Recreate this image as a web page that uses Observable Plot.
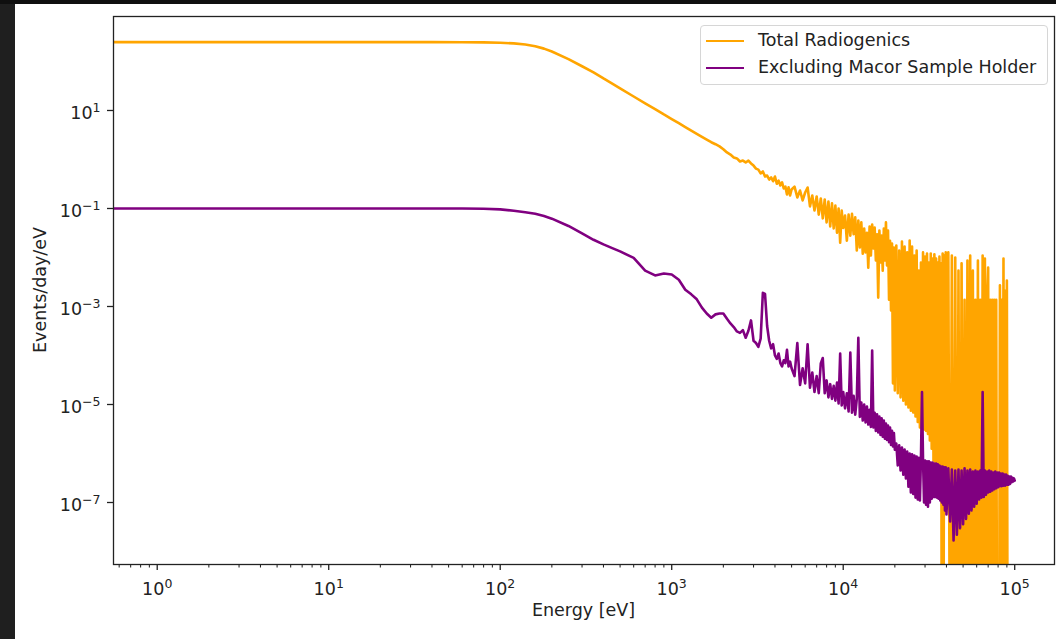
<!DOCTYPE html>
<html>
<head>
<meta charset="utf-8">
<script src="https://cdn.jsdelivr.net/npm/d3@7"></script>
<script src="https://cdn.jsdelivr.net/npm/@observablehq/plot@0.6"></script>
<style>
  html, body { margin: 0; padding: 0; }
  body { width: 1056px; height: 639px; overflow: hidden; position: relative; background: #1f1f1f; font-family: "DejaVu Sans", sans-serif; color: #222; }
  #topbar { position: absolute; left: 0; top: 0; width: 1056px; height: 4px; background: #0f0f0f; }
  #fig { position: absolute; left: 15px; top: 4px; width: 1041px; height: 635px; background: #fff; }
  #fig svg { display: block; }
  .lbl { position: absolute; font-size: 17.5px; line-height: 1; white-space: nowrap; color: #222; }
  #legend { position: absolute; left: 700px; top: 25px; width: 348px; height: 60px; box-sizing: border-box;
            border: 1px solid #d6d6d6; border-radius: 4px; background: rgba(255,255,255,0.85); }
  .sw { position: absolute; left: 5px; width: 38px; height: 2.6px; }
  .lt { position: absolute; left: 57px; font-size: 17.5px; line-height: 1; white-space: nowrap; color: #222; }
</style>
</head>
<body>
<div id="topbar"></div>
<div id="fig"></div>
<script>
// ---- data (energy in eV, rates in events/day/eV; 0 = empty bin) ----
const energy = [
  0.5, 1, 2, 5, 10, 20, 40, 60, 80, 100, 120, 140, 160, 180, 200, 250, 300, 350, 400, 450, 500, 600, 700, 800, 900, 1000,
  1100, 1200, 1300, 1400, 1500, 1600, 1700, 1800, 1900, 2000,
  2100, 2200, 2300, 2400, 2500, 2600, 2700, 2800, 2900, 3000, 3100, 3200, 3300, 3400, 3500, 3600, 3700, 3800, 3900, 4000,
  4100, 4200, 4300, 4400, 4500, 4600, 4700, 4800, 4900, 5000,
  5200, 5400, 5600, 5800, 6000, 6200, 6400, 6600, 6800, 7000, 7200, 7400, 7600, 7800, 8000, 8200, 8400, 8600, 8800, 9000,
  9200, 9400, 9600, 9800, 10000,
  10250, 10500, 10750, 11000, 11250, 11500, 11750, 12000, 12250, 12500, 12750, 13000, 13250, 13500, 13750, 14000, 14250, 14500,
  14750, 15000, 15250, 15500, 15750, 16000, 16250, 16500, 16750, 17000, 17250, 17500, 17750, 18000, 18250, 18500, 18750, 19000,
  19250, 19500, 19750, 20000,
  20400, 20800, 21200, 21600, 22000, 22400, 22800, 23200, 23600, 24000, 24400, 24800, 25200, 25600, 26000, 26400, 26800, 27200,
  27600, 28000, 28400, 28800, 29200, 29600, 30000, 30400, 30800, 31200, 31600, 32000, 32400, 32800, 33200, 33600, 34000, 34400,
  34800, 35200, 35600, 36000, 36400, 36800, 37200, 37600, 38000, 38400, 38800, 39200, 39600, 40000,
  41000, 42000, 43000, 44000, 45000, 46000, 47000, 48000, 49000, 50000, 51000, 52000, 53000, 54000, 55000, 56000, 57000, 58000,
  59000, 60000, 61000, 62000, 63000, 64000, 65000, 66000, 67000, 68000, 69000, 70000, 71000, 72000, 73000, 74000, 75000, 76000,
  77000, 78000, 79000, 80000, 81000, 82000, 83000, 84000, 85000, 86000, 87000, 88000, 89000, 90000, 91000, 92000, 93000, 94000,
  95000, 96000, 97000, 98000, 99000, 100000
];

const totalRadiogenics = [
  248, 248, 248, 248, 248, 248, 248, 247, 245, 241, 234, 222, 205, 183, 160, 112, 80, 60, 45, 35.4, 28.3, 19.3, 14, 10.7, 8.3, 6.7,
  5.5, 4.6, 3.9, 3.35, 2.9, 2.55, 2.25, 2.05, 1.85, 1.62,
  1.39, 1.26, 1.1, 1.05, 0.91, 0.95, 0.87, 0.95, 0.83, 0.75, 0.65, 0.62, 0.52, 0.57, 0.45, 0.47, 0.39, 0.43, 0.36, 0.45,
  0.32, 0.37, 0.295, 0.34, 0.256, 0.28, 0.193, 0.27, 0.184, 0.244,
  0.28, 0.168, 0.233, 0.146, 0.212, 0.268, 0.11, 0.184, 0.091, 0.176, 0.075, 0.16, 0.063, 0.153, 0.052, 0.139, 0.043, 0.127, 0.039, 0.115,
  0.032, 0.1, 0.02, 0.091, 0.04,
  0.072, 0.022, 0.075, 0.028, 0.078, 0.03, 0.066, 0.0139, 0.057, 0.016, 0.052, 0.012, 0.039, 0.0127, 0.032, 0.0062, 0.043, 0.011,
  0.047, 0.0153, 0.041, 0.0087, 0.0297, 0.00152, 0.0356, 0.0079, 0.028, 0.0054, 0.039, 0.0087, 0.052, 0.0069, 0.0356, 0.00137, 0.022, 0.00083,
  0.0193, 2.7e-5, 0.0159, 1.93e-5,
  0.0176, 1.7e-5, 0.0139, 1.4e-5, 0.0212, 1.2e-5, 0.0168, 1.0e-5, 0.0127, 8.7e-6, 0.0222, 7.5e-6, 0.0168, 6.9e-6, 0.011, 5.7e-6, 0.0139, 4.4e-6,
  0.0054, 3.4e-6, 0.0079, 3.3e-6, 0.0127, 3.1e-6, 0.0105, 2.9e-6, 0.0121, 2.5e-6, 0.0079, 1.84e-6, 0.0121, 1.25e-6, 0.0095, 7.2e-7, 0.0116, 6.8e-7,
  0.0095, 5.7e-7, 0.0079, 5.0e-7, 0.0105, 4.5e-7, 0.0076, 0, 0.0121, 0, 0.011, 9.3e-8, 0.0127, 9.3e-8,
  0.0127, 0, 0.011, 0, 0.01, 0, 0.0054, 0, 0.0076, 0, 0.00137, 0, 0.0087, 0, 0.011, 0, 0.0054, 0,
  0.00137, 0, 0.0087, 0, 0.00137, 0, 0.011, 0, 0.0095, 0, 0.00137, 0.0062, 0, 0.00137, 0, 0.00137, 0, 0.00137,
  0, 0.00137, 0, 0, 0, 0.0027, 0, 0.00137, 0, 0.0095, 0, 0.0021, 0, 0.0034, 0, 0, 0, 0,
  0, 0, 0, 0, 0, 0
];

const excludingMacor = [
  0.1, 0.1, 0.1, 0.1, 0.1, 0.1, 0.1, 0.1, 0.099, 0.096, 0.09, 0.084, 0.078, 0.07, 0.062, 0.044, 0.031, 0.023, 0.0185, 0.0155, 0.0133, 0.0098, 0.0054, 0.0043, 0.0047, 0.0045,
  0.0035, 0.0022, 0.00177, 0.0014, 0.00095, 0.00072, 0.00059, 0.00069, 0.00072, 0.00072,
  5.6e-4, 4.5e-4, 3.8e-4, 3.1e-4, 2.9e-4, 3.3e-4, 2.3e-4, 3.2e-4, 5.2e-4, 2.0e-4, 1.8e-4, 1.5e-4, 2.2e-4, 1.9e-3, 1.8e-3, 4.0e-4, 2.0e-4, 1.4e-4, 1.7e-4, 1.0e-4,
  8.5e-5, 1.1e-4, 7.0e-5, 6.0e-5, 8.0e-5, 7.0e-5, 1.3e-4, 6.0e-5, 7.5e-5, 5.5e-5,
  3.8e-5, 1.8e-4, 2.5e-5, 5.5e-5, 2.7e-5, 1.7e-4, 2.2e-5, 4.5e-5, 1.8e-5, 3.8e-5, 1.7e-5, 6.9e-5, 8.9e-5, 1.7e-5, 3.1e-5, 1.4e-5, 2.6e-5, 1.3e-5, 2.4e-5, 1.2e-5,
  2.8e-5, 1.05e-5, 1.1e-4, 9.6e-6, 1.8e-5,
  8.3e-6, 1.7e-5, 7.2e-6, 1.15e-4, 6.8e-6, 1.5e-5, 6.2e-6, 1.3e-5, 2.3e-4, 5.6e-6, 1.1e-5, 4.7e-6, 1.0e-5, 4.3e-6, 9.1e-6, 3.9e-6, 7.8e-6, 3.5e-6,
  1.26e-4, 3.4e-6, 6.8e-6, 2.9e-6, 6.3e-6, 2.7e-6, 5.7e-6, 2.4e-6, 5.2e-6, 2.2e-6, 4.7e-6, 2.0e-6, 4.1e-6, 1.9e-6, 3.7e-6, 1.7e-6, 3.4e-6, 1.5e-6,
  2.9e-6, 1.4e-6, 2.6e-6, 1.2e-6,
  1.6e-6, 5.7e-7, 1.47e-6, 4.5e-7, 1.33e-6, 3.7e-7, 1.2e-6, 3.1e-7, 1.1e-6, 2.1e-7, 1.0e-6, 1.6e-7, 9.6e-7, 1.5e-7, 9.1e-7, 1.26e-7, 8.7e-7, 1.15e-7,
  8.2e-7, 1.1e-7, 7.9e-7, 1.8e-5, 7.5e-7, 1.0e-7, 7.2e-7, 9.0e-8, 6.9e-7, 8.2e-8, 6.9e-7, 1.0e-7, 6.5e-7, 1.2e-7, 6.5e-7, 1.3e-7, 6.2e-7, 1.3e-7,
  6.2e-7, 1.26e-7, 6.0e-7, 1.2e-7, 5.7e-7, 1.1e-7, 5.4e-7, 1.0e-7, 5.4e-7, 9.0e-8, 5.2e-7, 6.9e-8, 5.2e-7, 5.7e-8,
  5.0e-7, 4.1e-8, 4.7e-7, 1.68e-8, 4.5e-7, 2.2e-8, 4.7e-7, 3.0e-8, 4.5e-7, 3.6e-8, 5.0e-7, 4.6e-8, 4.5e-7, 5.9e-8, 4.7e-7, 6.9e-8, 4.3e-7, 8.2e-8,
  4.5e-7, 9.5e-8, 4.3e-7, 1.15e-7, 4.5e-7, 1.26e-7, 1.8e-5, 1.3e-7, 4.5e-7, 1.45e-7, 4.3e-7, 1.6e-7, 4.5e-7, 1.66e-7, 4.3e-7, 1.76e-7, 4.1e-7, 1.86e-7,
  4.3e-7, 1.96e-7, 4.1e-7, 2.05e-7, 4.1e-7, 2.15e-7, 3.9e-7, 2.15e-7, 3.9e-7, 2.2e-7, 3.7e-7, 2.2e-7, 3.7e-7, 2.3e-7, 3.5e-7, 2.3e-7, 3.4e-7, 2.4e-7,
  3.4e-7, 2.6e-7, 3.2e-7, 2.7e-7, 3.1e-7, 2.8e-7
];

const seriesNames = ["Total Radiogenics", "Excluding Macor Sample Holder"];
const seriesColors = ["orange", "purple"];
const xMajorTicks = [1, 10, 100, 1000, 10000, 100000];
const yMajorTicks = [1e1, 1e-1, 1e-3, 1e-5, 1e-7];
const xLabel = "Energy [eV]";
const yLabel = "Events/day/eV";

// ---- build ----
if (energy.length !== totalRadiogenics.length || energy.length !== excludingMacor.length) {
  console.error("length mismatch", energy.length, totalRadiogenics.length, excludingMacor.length);
}
const xDomain = [0.556, 1.706e5];
const yDomain = [5.43e-9, 828];
const FLOOR = 1e-12; // empty bins are clipped far below the axis, as a log plot does
const rows = energy.map((e, i) => ({
  energy: e,
  total: totalRadiogenics[i] > 0 ? totalRadiogenics[i] : FLOOR,
  excluding: excludingMacor[i] > 0 ? excludingMacor[i] : FLOOR
}));

const xMinorTicks = [];
for (let k = -1; k <= 5; k++) for (let m = 2; m <= 9; m++) {
  const v = m * Math.pow(10, k);
  if (v >= xDomain[0] && v <= xDomain[1]) xMinorTicks.push(v);
}

const fmt = d => {
  const e = Math.round(Math.log10(d));
  return "10^" + (e < 0 ? "\u2212" + (-e) : String(e));
};

const chart = Plot.plot({
  width: 1041,
  height: 635,
  marginLeft: 98,
  marginRight: 2,
  marginTop: 12,
  marginBottom: 75,
  style: { fontFamily: "DejaVu Sans", fontSize: "17.5px", color: "#222", background: "transparent", overflow: "visible" },
  x: { type: "log", domain: xDomain },
  y: { type: "log", domain: yDomain },
  marks: [
    Plot.line(rows, { x: "energy", y: "total", stroke: seriesColors[0], strokeWidth: 2.6, strokeLinejoin: "round", clip: true }),
    Plot.line(rows, { x: "energy", y: "excluding", stroke: seriesColors[1], strokeWidth: 2.6, strokeLinejoin: "round", clip: true }),
    Plot.frame({ stroke: "#222", strokeWidth: 1.3 }),
    Plot.axisX({ ticks: xMinorTicks, tickSize: 3.5, strokeWidth: 1.05, stroke: "#222", fill: "none", label: null }),
    Plot.axisX({ ticks: xMajorTicks, tickSize: 6, tickPadding: 12, strokeWidth: 1.3, stroke: "#222", fill: "#222", fontSize: 17.5, tickFormat: fmt, label: null }),
    Plot.axisY({ ticks: yMajorTicks, tickSize: 6, tickPadding: 7, strokeWidth: 1.3, stroke: "#222", fill: "#222", fontSize: 17.5, tickFormat: fmt, label: null })
  ]
});

// superscript exponents like matplotlib's mathtext
const NS = "http://www.w3.org/2000/svg";
chart.querySelectorAll('g[aria-label="x-axis tick label"] text, g[aria-label="y-axis tick label"] text').forEach(t => {
  const parts = t.textContent.split("^");
  if (parts.length !== 2) return;
  t.textContent = parts[0];
  const ts = document.createElementNS(NS, "tspan");
  ts.setAttribute("dy", "-7");
  ts.setAttribute("font-size", "12.5px");
  ts.textContent = parts[1];
  t.appendChild(ts);
});
const yLabels = chart.querySelector('g[aria-label="y-axis tick label"]');
if (yLabels) yLabels.setAttribute("transform", (yLabels.getAttribute("transform") || "") + " translate(0,2.5)");

document.getElementById("fig").appendChild(chart);

// axis titles
const xl = document.createElement("div");
xl.className = "lbl";
xl.textContent = xLabel;
xl.style.left = "583.5px"; xl.style.top = "602px"; xl.style.transform = "translateX(-50%)";
document.body.appendChild(xl);

const yl = document.createElement("div");
yl.className = "lbl";
yl.textContent = yLabel;
yl.style.left = "41px"; yl.style.top = "290px"; yl.style.transform = "translate(-50%,-50%) rotate(-90deg)";
document.body.appendChild(yl);

// legend
const legend = document.createElement("div");
legend.id = "legend";
seriesNames.forEach((name, i) => {
  const cy = 15 + i * 27;
  const sw = document.createElement("div");
  sw.className = "sw";
  sw.style.top = (cy - 1.3) + "px";
  sw.style.background = seriesColors[i];
  legend.appendChild(sw);
  const tx = document.createElement("div");
  tx.className = "lt";
  tx.textContent = name;
  tx.style.top = (cy - 9) + "px";
  legend.appendChild(tx);
});
document.body.appendChild(legend);
</script>
</body>
</html>
